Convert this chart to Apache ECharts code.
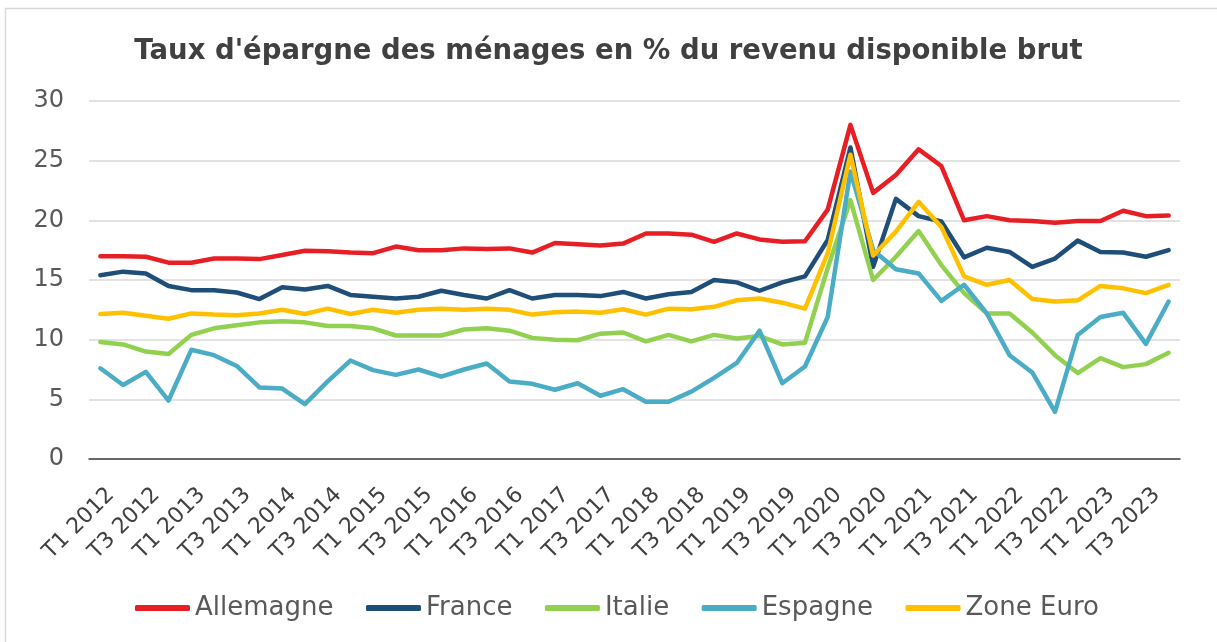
<!DOCTYPE html>
<html>
<head>
<meta charset="utf-8">
<script src="https://cdn.jsdelivr.net/npm/echarts@6/dist/echarts.min.js"></script>
<style>
html,body{margin:0;padding:0;background:#fff;}
#chart{width:1217px;height:642px;}
</style>
</head>
<body>
<div id="chart"></div>
<script>
var categories = ['T1 2012','T2 2012','T3 2012','T4 2012','T1 2013','T2 2013','T3 2013','T4 2013',
'T1 2014','T2 2014','T3 2014','T4 2014','T1 2015','T2 2015','T3 2015','T4 2015',
'T1 2016','T2 2016','T3 2016','T4 2016','T1 2017','T2 2017','T3 2017','T4 2017',
'T1 2018','T2 2018','T3 2018','T4 2018','T1 2019','T2 2019','T3 2019','T4 2019',
'T1 2020','T2 2020','T3 2020','T4 2020','T1 2021','T2 2021','T3 2021','T4 2021',
'T1 2022','T2 2022','T3 2022','T4 2022','T1 2023','T2 2023','T3 2023','T4 2023'];

var allemagne = [17.0,17.0,16.95,16.45,16.45,16.8,16.8,16.75,17.1,17.45,17.4,17.3,17.25,17.8,17.5,
17.5,17.65,17.6,17.65,17.3,18.1,18.0,17.9,18.05,18.9,18.9,18.8,18.2,18.9,18.4,
18.2,18.25,20.9,28.0,22.3,23.8,25.95,24.55,20.0,20.35,
20.0,19.95,19.8,19.95,19.95,20.8,20.35,20.4];

var france = [15.4,15.7,15.55,14.5,14.15,14.15,13.95,13.4,14.4,14.2,14.5,13.75,13.6,13.45,13.6,
14.1,13.75,13.45,14.15,13.45,13.75,13.75,13.65,14.0,13.45,13.8,14.0,15.0,14.8,14.1,
14.8,15.3,18.35,26.1,16.1,21.8,20.35,19.9,16.9,17.7,
17.35,16.1,16.8,18.3,17.35,17.3,16.95,17.5];

var italie = [9.8,9.6,9.0,8.8,10.4,10.95,11.2,11.45,11.55,11.45,11.15,11.15,10.95,10.35,10.35,
10.35,10.85,10.95,10.75,10.15,10.0,9.95,10.5,10.6,9.85,10.4,9.85,10.4,10.1,10.3,
9.6,9.75,16.0,21.7,15.0,16.95,19.1,16.25,13.9,12.2,
12.2,10.6,8.7,7.2,8.45,7.7,7.95,8.9];

var espagne = [7.6,6.2,7.3,4.9,9.15,8.7,7.8,6.0,5.9,4.6,6.5,8.25,7.45,7.05,7.5,
6.9,7.5,8.0,6.5,6.3,5.8,6.35,5.3,5.85,4.8,4.8,5.65,6.8,8.05,10.75,
6.35,7.75,11.9,24.1,17.5,15.9,15.55,13.25,14.6,12.2,
8.7,7.25,3.95,10.4,11.9,12.25,9.65,13.2];

var zoneEuro = [12.15,12.25,12.0,11.75,12.2,12.1,12.05,12.2,12.5,12.15,12.6,12.15,12.5,12.25,12.5,
12.6,12.5,12.6,12.5,12.1,12.3,12.35,12.25,12.55,12.1,12.6,12.55,12.75,13.3,13.45,
13.1,12.6,17.25,25.5,17.05,19.05,21.55,19.45,15.3,14.6,
15.0,13.4,13.2,13.3,14.5,14.3,13.9,14.6];

var seriesNames = ['Allemagne','France','Italie','Espagne','Zone Euro'];
var seriesData = [allemagne, france, italie, espagne, zoneEuro];
var colors = ['#E81E25','#1F4E79','#92D050','#4BACC6','#FFC000'];

var chart = echarts.init(document.getElementById('chart'), null, {renderer:'canvas'});
var font = 'DejaVu Sans';
chart.setOption({
  animation:false,
  backgroundColor:'#ffffff',
  color: colors,
  graphic:[{type:'rect', shape:{x:5.5,y:8.5,width:1230,height:650}, style:{fill:'none',stroke:'#D9D9D9',lineWidth:1.5}, silent:true}],
  title:{
    text:"Taux d'épargne des ménages en % du revenu disponible brut",
    left:'center', top:33,
    textStyle:{fontFamily:font, fontWeight:'bold', fontSize:27.5, color:'#404040'}
  },
  legend:{
    top:590, left:130,
    itemWidth:55, itemHeight:6, itemGap:32.5,
    icon:'roundRect',
    textStyle:{fontFamily:font, fontSize:26, color:'#595959'},
    data: seriesNames
  },
  grid:{left:89, right:37, top:101, bottom:183, containLabel:false},
  xAxis:{
    type:'category', data:categories, boundaryGap:true,
    axisLine:{lineStyle:{color:'#404040', width:1.5}},
    axisTick:{show:false},
    axisLabel:{interval:1, rotate:45, margin:22, verticalAlign:'top', lineHeight:30,
      fontFamily:font, fontSize:22, color:'#404040'}
  },
  yAxis:{
    type:'value', min:0, max:30, interval:5,
    axisLine:{show:false}, axisTick:{show:false},
    splitLine:{lineStyle:{color:'#D9D9D9', width:1.5}},
    axisLabel:{margin:25, fontFamily:font, fontSize:24, color:'#595959'}
  },
  series: seriesNames.map(function(n,i){
    return {name:n, type:'line', data:seriesData[i], symbol:'none', smooth:false,
      lineStyle:{width:4.5, color:colors[i], cap:'round', join:'round'}, itemStyle:{color:colors[i]}};
  })
});
</script>
</body>
</html>
